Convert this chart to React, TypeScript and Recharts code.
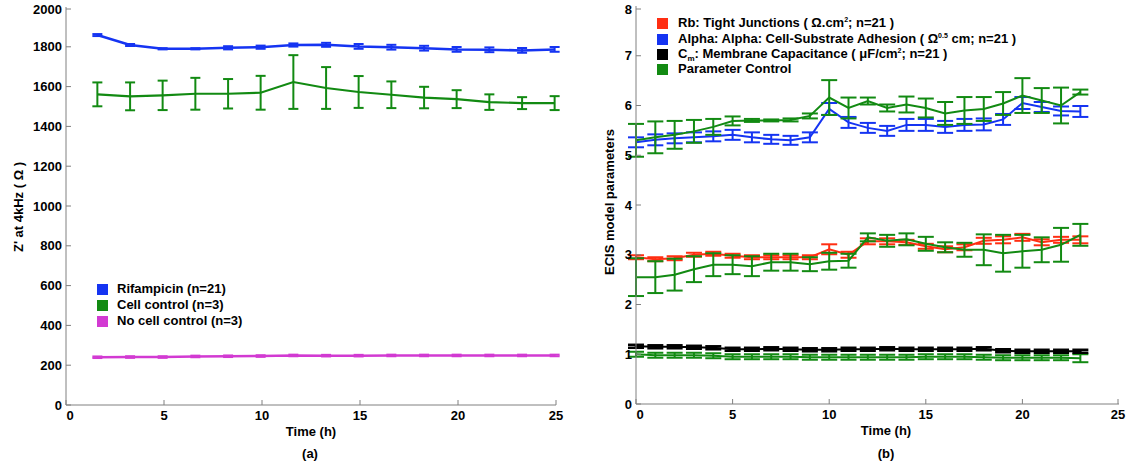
import React from 'react';
import { LineChart, Line, XAxis, YAxis, ErrorBar } from 'recharts';

const FONT = '"Liberation Sans", Arial, Helvetica, sans-serif';

const BLUE = '#1534f2';
const GREEN = '#128a12';
const MAGENTA = '#d23ad2';
const RED = '#ff2e12';
const BLACK = '#000000';
const AXIS = '#808080';

// ---- Panel (a) ----
const timeA = [1.6, 3.27, 4.93, 6.6, 8.27, 9.93, 11.6, 13.27, 14.93, 16.6, 18.27, 19.93, 21.6, 23.27, 24.93];
const rifampicin = [1859, 1809, 1790, 1790, 1795, 1798, 1809, 1810, 1802, 1798, 1793, 1787, 1785, 1782, 1787];
const rifampicinErr = [5, 5, 3, 3, 8, 8, 8, 10, 12, 12, 12, 12, 12, 12, 12];
const cellControl = [1561, 1551, 1556, 1564, 1564, 1569, 1623, 1593, 1573, 1559, 1545, 1537, 1522, 1517, 1517];
const cellControlErr = [60, 70, 74, 80, 74, 85, 135, 105, 80, 67, 54, 45, 39, 30, 35];
const noCellControl = [240, 241, 241, 244, 245, 246, 249, 248, 248, 249, 249, 249, 249, 249, 249];
const noCellControlErr = [4, 4, 4, 4, 4, 4, 4, 4, 4, 4, 4, 4, 4, 4, 4];
const ticksA_Y = [0, 200, 400, 600, 800, 1000, 1200, 1400, 1600, 1800, 2000];
const ticksX = [0, 5, 10, 15, 20, 25];

// ---- Panel (b) ----
const timeB = [0, 1, 2, 3, 4, 5, 6, 7, 8, 9, 10, 11, 12, 13, 14, 15, 16, 17, 18, 19, 20, 21, 22, 23];
const rb = [2.95, 2.91, 2.93, 3.0, 3.02, 2.98, 2.95, 2.95, 2.95, 2.95, 3.11, 3.0, 3.27, 3.27, 3.25, 3.17, 3.11, 3.15, 3.28, 3.3, 3.35, 3.25, 3.3, 3.3];
const rbErr = [0.04, 0.04, 0.04, 0.04, 0.04, 0.04, 0.04, 0.04, 0.04, 0.04, 0.1, 0.06, 0.06, 0.06, 0.05, 0.05, 0.06, 0.06, 0.06, 0.07, 0.07, 0.06, 0.06, 0.07];
const rbControl = [2.55, 2.55, 2.6, 2.71, 2.8, 2.8, 2.77, 2.85, 2.85, 2.81, 2.87, 2.88, 3.35, 3.28, 3.31, 3.22, 3.15, 3.1, 3.1, 3.03, 3.07, 3.1, 3.2, 3.4];
const rbControlErr = [0.38, 0.32, 0.32, 0.26, 0.23, 0.19, 0.2, 0.17, 0.17, 0.14, 0.17, 0.14, 0.08, 0.12, 0.12, 0.14, 0.1, 0.14, 0.31, 0.37, 0.33, 0.25, 0.34, 0.22];
const alpha = [5.26, 5.31, 5.34, 5.36, 5.38, 5.41, 5.36, 5.32, 5.3, 5.36, 5.93, 5.66, 5.55, 5.49, 5.61, 5.61, 5.57, 5.61, 5.62, 5.72, 6.05, 5.97, 5.89, 5.88];
const alphaErr = [0.1, 0.11, 0.1, 0.1, 0.1, 0.1, 0.1, 0.09, 0.09, 0.1, 0.12, 0.11, 0.1, 0.1, 0.12, 0.12, 0.12, 0.12, 0.12, 0.11, 0.12, 0.1, 0.09, 0.11];
const alphaControl = [5.3, 5.36, 5.41, 5.48, 5.57, 5.69, 5.7, 5.7, 5.71, 5.79, 6.16, 5.95, 6.09, 5.95, 6.02, 5.95, 5.84, 5.9, 5.93, 6.04, 6.2, 6.1, 6.0, 6.27];
const alphaControlErr = [0.33, 0.32, 0.28, 0.23, 0.16, 0.09, 0.03, 0.02, 0.03, 0.05, 0.35, 0.21, 0.07, 0.07, 0.16, 0.19, 0.23, 0.27, 0.24, 0.23, 0.35, 0.25, 0.36, 0.05];
const cm = [1.16, 1.15, 1.15, 1.14, 1.13, 1.1, 1.1, 1.11, 1.1, 1.09, 1.09, 1.1, 1.1, 1.11, 1.1, 1.1, 1.1, 1.1, 1.11, 1.07, 1.06, 1.06, 1.06, 1.06];
const cmErr = [0.03, 0.03, 0.03, 0.03, 0.03, 0.03, 0.03, 0.03, 0.03, 0.03, 0.03, 0.03, 0.03, 0.03, 0.03, 0.03, 0.03, 0.03, 0.03, 0.03, 0.03, 0.03, 0.03, 0.03];
const cmControl = [1.0, 0.98, 0.98, 0.98, 0.97, 0.95, 0.95, 0.95, 0.95, 0.94, 0.94, 0.94, 0.94, 0.94, 0.94, 0.95, 0.95, 0.95, 0.94, 0.93, 0.93, 0.93, 0.93, 0.92];
const cmControlErr = [0.05, 0.05, 0.05, 0.05, 0.05, 0.05, 0.05, 0.05, 0.05, 0.05, 0.05, 0.05, 0.05, 0.05, 0.05, 0.05, 0.05, 0.05, 0.05, 0.05, 0.05, 0.05, 0.05, 0.08];
const ticksB_Y = [0, 1, 2, 3, 4, 5, 6, 7, 8];

const dataA = timeA.map((t, i) => ({
  t,
  rif: rifampicin[i],
  rifErr: rifampicinErr[i],
  cell: cellControl[i],
  cellErr: cellControlErr[i],
  noCell: noCellControl[i],
  noCellErr: noCellControlErr[i],
}));

const dataB = timeB.map((t, i) => ({
  t,
  rb: rb[i],
  rbErr: rbErr[i],
  rbC: rbControl[i],
  rbCErr: rbControlErr[i],
  alpha: alpha[i],
  alphaErr: alphaErr[i],
  alphaC: alphaControl[i],
  alphaCErr: alphaControlErr[i],
  cm: cm[i],
  cmErr: cmErr[i],
  cmC: cmControl[i],
  cmCErr: cmControlErr[i],
}));

const YTick = (props: any) => {
  const { x, y, payload } = props;
  return (
    <g>
      <line x1={x} y1={y} x2={x + 5} y2={y} stroke={AXIS} strokeWidth={1} />
      <text x={x - 4} y={y} dy={4.5} textAnchor="end" fontFamily={FONT} fontWeight="bold" fontSize={13} fill="#000">
        {payload.value}
      </text>
    </g>
  );
};

const XTick = (props: any) => {
  const { x, y, payload } = props;
  return (
    <g>
      <line x1={x} y1={y} x2={x} y2={y - 5} stroke={AXIS} strokeWidth={1} />
      <text x={payload.value === 0 ? x + 4 : x} y={y} dy={15} textAnchor="middle" fontFamily={FONT} fontWeight="bold" fontSize={13} fill="#000">
        {payload.value}
      </text>
    </g>
  );
};

const txt: React.CSSProperties = {
  fontFamily: FONT,
  fontWeight: 'bold',
  fontSize: 13,
  color: '#000',
  whiteSpace: 'nowrap',
};

const LegendRow = ({ color, top, left, textLeft, children }: any) => (
  <div style={{ position: 'absolute', top: top - 8, left, height: 16, display: 'flex', alignItems: 'center' }}>
    <div style={{ width: 11, height: 11, background: color }} />
    <div style={{ ...txt, position: 'absolute', left: textLeft - left, top: 0, height: 16, lineHeight: '16px' }}>{children}</div>
  </div>
);

const sup: React.CSSProperties = { fontSize: 7, verticalAlign: 5, lineHeight: 0 };
const sub: React.CSSProperties = { fontSize: 8, verticalAlign: -3, lineHeight: 0 };

export default function App() {
  const barW = 2;
  return (
    <div style={{ position: 'absolute', left: 0, top: 0, width: 1126, height: 464, background: '#fff', overflow: 'hidden' }}>
      {/* Panel (a) */}
      <div style={{ position: 'absolute', left: 0, top: 0 }}>
        <LineChart width={600} height={464} data={dataA} margin={{ top: 7, right: 44, bottom: 29, left: 26 }}>
          <XAxis
            type="number"
            dataKey="t"
            domain={[0, 25]}
            allowDataOverflow
            ticks={ticksX}
            tickSize={0}
            tickMargin={0}
            tick={<XTick />}
            axisLine={{ stroke: AXIS, strokeWidth: 1 }}
            height={30}
          />
          <YAxis
            type="number"
            domain={[0, 2000]}
            ticks={ticksA_Y}
            tickSize={0}
            tickMargin={0}
            tick={<YTick />}
            axisLine={{ stroke: AXIS, strokeWidth: 1 }}
            width={40}
          />
          <Line dataKey="noCell" stroke={MAGENTA} strokeWidth={2.5} dot={false} isAnimationActive={false}>
            <ErrorBar dataKey="noCellErr" width={5} strokeWidth={barW} stroke={MAGENTA} direction="y" />
          </Line>
          <Line dataKey="cell" stroke={GREEN} strokeWidth={2.2} dot={false} isAnimationActive={false}>
            <ErrorBar dataKey="cellErr" width={5} strokeWidth={barW} stroke={GREEN} direction="y" />
          </Line>
          <Line dataKey="rif" stroke={BLUE} strokeWidth={2.5} dot={false} isAnimationActive={false}>
            <ErrorBar dataKey="rifErr" width={5} strokeWidth={barW} stroke={BLUE} direction="y" />
          </Line>
        </LineChart>
      </div>

      {/* Panel (b) */}
      <div style={{ position: 'absolute', left: 560, top: 0 }}>
        <LineChart width={566} height={464} data={dataB} margin={{ top: 6, right: 7, bottom: 30, left: 36 }}>
          <XAxis
            type="number"
            dataKey="t"
            domain={[0, 25]}
            allowDataOverflow
            ticks={ticksX}
            tickSize={0}
            tickMargin={0}
            tick={<XTick />}
            axisLine={{ stroke: AXIS, strokeWidth: 1 }}
            height={30}
          />
          <YAxis
            type="number"
            domain={[0, 8]}
            ticks={ticksB_Y}
            tickSize={0}
            tickMargin={0}
            tick={<YTick />}
            axisLine={{ stroke: AXIS, strokeWidth: 1 }}
            width={40}
          />
          <Line dataKey="rb" stroke={RED} strokeWidth={2} dot={false} isAnimationActive={false}>
            <ErrorBar dataKey="rbErr" width={8} strokeWidth={barW} stroke={RED} direction="y" />
          </Line>
          <Line dataKey="alpha" stroke={BLUE} strokeWidth={2} dot={false} isAnimationActive={false}>
            <ErrorBar dataKey="alphaErr" width={8} strokeWidth={barW} stroke={BLUE} direction="y" />
          </Line>
          <Line dataKey="cmC" stroke={GREEN} strokeWidth={2} dot={false} isAnimationActive={false}>
            <ErrorBar dataKey="cmCErr" width={8} strokeWidth={barW} stroke={GREEN} direction="y" />
          </Line>
          <Line dataKey="cm" stroke={BLACK} strokeWidth={2} dot={false} isAnimationActive={false}>
            <ErrorBar dataKey="cmErr" width={8} strokeWidth={2.5} stroke={BLACK} direction="y" />
          </Line>
          <Line dataKey="rbC" stroke={GREEN} strokeWidth={2} dot={false} isAnimationActive={false}>
            <ErrorBar dataKey="rbCErr" width={8} strokeWidth={barW} stroke={GREEN} direction="y" />
          </Line>
          <Line dataKey="alphaC" stroke={GREEN} strokeWidth={2} dot={false} isAnimationActive={false}>
            <ErrorBar dataKey="alphaCErr" width={8} strokeWidth={barW} stroke={GREEN} direction="y" />
          </Line>
        </LineChart>
      </div>

      {/* Axis titles */}
      <svg width={1126} height={464} style={{ position: 'absolute', left: 0, top: 0, pointerEvents: 'none' }}>
        <text x={18} y={207} transform="rotate(-90 18 207)" textAnchor="middle" dominantBaseline="central" fontFamily={FONT} fontWeight="bold" fontSize={13}>
          Z' at 4kHz ( Ω )
        </text>
        <text x={311} y={431} textAnchor="middle" dominantBaseline="central" fontFamily={FONT} fontWeight="bold" fontSize={13}>
          Time (h)
        </text>
        <text x={310} y={453} textAnchor="middle" dominantBaseline="central" fontFamily={FONT} fontWeight="bold" fontSize={13}>
          (a)
        </text>
        <text x={609} y={202} transform="rotate(-90 609 202)" textAnchor="middle" dominantBaseline="central" fontFamily={FONT} fontWeight="bold" fontSize={13}>
          ECIS model parameters
        </text>
        <text x={886} y={430} textAnchor="middle" dominantBaseline="central" fontFamily={FONT} fontWeight="bold" fontSize={13}>
          Time (h)
        </text>
        <text x={886} y={453} textAnchor="middle" dominantBaseline="central" fontFamily={FONT} fontWeight="bold" fontSize={13}>
          (b)
        </text>
      </svg>

      {/* Legend (a) */}
      <LegendRow color={BLUE} top={289} left={97} textLeft={117}>Rifampicin (n=21)</LegendRow>
      <LegendRow color={GREEN} top={305} left={97} textLeft={117}>Cell control (n=3)</LegendRow>
      <LegendRow color={MAGENTA} top={321} left={97} textLeft={117}>No cell control (n=3)</LegendRow>

      {/* Legend (b) */}
      <LegendRow color={RED} top={23} left={657} textLeft={678}>
        Rb: Tight Junctions ( Ω.cm<span style={sup}>2</span>; n=21 )
      </LegendRow>
      <LegendRow color={BLUE} top={39} left={657} textLeft={678}>
        Alpha: Alpha: Cell-Substrate Adhesion ( Ω<span style={sup}>0.5</span> cm; n=21 )
      </LegendRow>
      <LegendRow color={BLACK} top={54} left={657} textLeft={678}>
        C<span style={sub}>m</span>: Membrane Capacitance ( μF/cm<span style={sup}>2</span>; n=21 )
      </LegendRow>
      <LegendRow color={GREEN} top={69} left={657} textLeft={678}>
        Parameter Control
      </LegendRow>
    </div>
  );
}
